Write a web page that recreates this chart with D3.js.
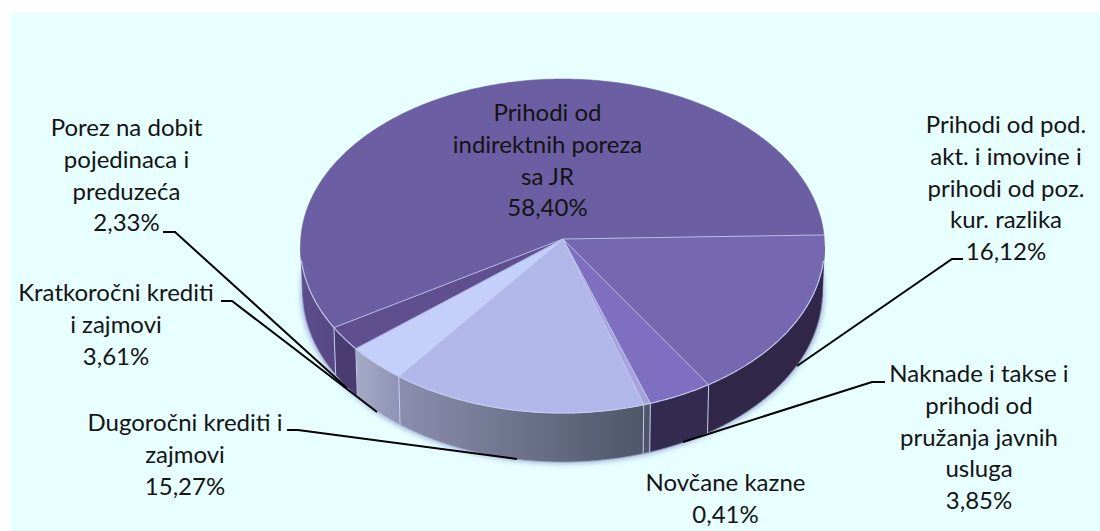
<!DOCTYPE html>
<html><head><meta charset="utf-8">
<script src="https://cdn.jsdelivr.net/npm/d3@7"></script>
<style>html,body{margin:0;padding:0;background:#fff;overflow:hidden}svg{display:block}</style>
</head><body><svg id="c" width="1100" height="531"></svg>
<script>
const categories = ["Prihodi od pod. akt. i imovine i prihodi od poz. kur. razlika","Naknade i takse i prihodi od pružanja javnih usluga","Novčane kazne","Dugoročni krediti i zajmovi","Kratkoročni krediti i zajmovi","Porez na dobit pojedinaca i preduzeća","Prihodi od indirektnih poreza sa JR"];
const values = [16.12,3.85,0.41,15.27,3.61,2.33,58.40];
const topColors = ["#7567b0","#7e6fc0","#a6a2dc","#b2b7e9","#c4cffa","#5f4f8e","#6b5ea3"];
const wallStart = ["#312849","#332b50","#4e5668","#8b8eae","#a5abc6","#4a3b70","#5d4f8e"];
const wallEnd   = ["#312849","#332b50","#4e5668","#4e5668","#8f93b5","#4a3b70","#564882"];
const labelLines = [
 ["Prihodi od pod.","akt. i imovine i","prihodi od poz.","kur. razlika","16,12%"],
 ["Naknade i takse i","prihodi od","pružanja javnih","usluga","3,85%"],
 ["Novčane kazne","0,41%"],
 ["Dugoročni krediti i","zajmovi","15,27%"],
 ["Kratkoročni krediti","i zajmovi","3,61%"],
 ["Porez na dobit","pojedinaca i","preduzeća","2,33%"],
 ["Prihodi od","indirektnih poreza","sa JR","58,40%"]
];
const labelAnchors = [[1006,133],[979,382],[725.5,491],[185,431],[116,301],[126.5,136],[547.5,121]];
const leaders = [
 [[963,259],[952,259],[797,366]],
 [[885,382],[872,382],[683,442]],
 [[287,430],[298,430],[517,459]],
 [[221,301],[232,301],[377,412]],
 [[163,232],[175,232],[347,388]]
];
const W=1100,H=531,apexX=563,apexY=239,cx=562.5,cy=246,rx=262,ry=167,cx2=562.5,cy2=291.5,rx2=260,ry2=170.5;
const deg=Math.PI/180;
const svg=d3.select("#c");
const defs=svg.append("defs");
defs.append("filter").attr("id","blur").attr("x","-10%").attr("y","-10%").attr("width","120%").attr("height","120%")
  .append("feGaussianBlur").attr("stdDeviation",2.5);
svg.append("rect").attr("x",10).attr("y",13).attr("width",W-10).attr("height",H-13).attr("fill","#e7ffff");

// pie angles bent by a mild perspective onto the rim ellipse
const pie=d3.pie().sort(null).value(d=>d);
const persp=d3.scaleLinear().domain([0,149.7*deg,360*deg]).range([86.2*deg,240.7*deg,446.2*deg]);
const arcs=pie(values).map(d=>({s:persp(d.startAngle),e:persp(d.endAngle)}));
const tx=d3.scaleLinear().domain([-1,1]).range([cx-rx,cx+rx]);
const ty=d3.scaleLinear().domain([-1,1]).range([cy-ry,cy+ry]);
const bx=d3.scaleLinear().domain([-1,1]).range([cx2-rx2,cx2+rx2]);
const by=d3.scaleLinear().domain([-1,1]).range([cy2-ry2,cy2+ry2]);
const topPt=a=>[tx(Math.sin(a)),ty(-Math.cos(a))];
const botPt=a=>[bx(Math.sin(a)),by(-Math.cos(a))];
const line=d3.line();
const sweep=(a0,a1,f)=>{const n=Math.max(2,Math.ceil((a1-a0)/(0.5*deg)));return d3.range(n+1).map(i=>f(a0+(a1-a0)*i/n));};

// soft shadow below the disc
svg.append("ellipse").attr("cx",cx2).attr("cy",cy2+1).attr("rx",rx2+2).attr("ry",ry2+1)
  .attr("fill","#8fa0d0").attr("filter","url(#blur)").attr("opacity",.75);

// walls (front half only)
const lo=90*deg, hi=270*deg;
arcs.forEach((d,i)=>{
  const s=Math.max(d.s,lo), e=Math.min(d.e,hi);
  if(e<=s) return;
  const id="w"+i;
  const g=defs.append("linearGradient").attr("id",id).attr("gradientUnits","userSpaceOnUse")
    .attr("x1",topPt(e)[0]).attr("x2",topPt(s)[0]).attr("y1",0).attr("y2",0);
  g.append("stop").attr("offset",0).attr("stop-color",wallStart[i]);
  g.append("stop").attr("offset",1).attr("stop-color",wallEnd[i]);
  const pts=sweep(s,e,topPt).concat(sweep(s,e,botPt).reverse());
  svg.append("path").attr("d",line(pts)+"Z").attr("fill",`url(#${id})`).attr("stroke",`url(#${id})`).attr("stroke-width",.5);
});
// wall separators
const edge="#c6cdf2";
arcs.forEach((d,i)=>{
  if(i===arcs.length-1) return;
  svg.append("path").attr("d",line([topPt(d.e),botPt(d.e)]))
    .attr("stroke",edge).attr("stroke-width",1).attr("fill","none");
});
svg.append("path").attr("d",line(sweep(lo+2*deg,hi-2*deg,botPt))).attr("fill","none").attr("stroke","#c6cdf2").attr("stroke-width",.8).attr("opacity",.5);

// top faces
arcs.forEach((d,i)=>{
  svg.append("path").attr("d",line([[apexX,apexY]].concat(sweep(d.s,d.e,topPt)))+"Z")
    .attr("fill",topColors[i]).attr("stroke",topColors[i]).attr("stroke-width",.5);
});
// radial edges + front rim
arcs.forEach(d=>{
  svg.append("path").attr("d",line([[apexX,apexY],topPt(d.s)])).attr("stroke",edge).attr("stroke-width",1).attr("fill","none").attr("opacity",.85);
});
svg.append("path").attr("d",line(sweep(lo+5*deg,hi-5*deg,topPt))).attr("fill","none").attr("stroke",edge).attr("stroke-width",1.1);

// leaders
leaders.forEach(p=>svg.append("path").attr("d",line(p)).attr("fill","none").attr("stroke","#000").attr("stroke-width",2));

// labels
const fs=24, lh=31.8;
labelLines.forEach((ls,i)=>{
  const t=svg.append("text").attr("font-family","Lato").attr("font-size",fs).attr("fill","#141414").attr("text-anchor","middle");
  ls.forEach((l,j)=>t.append("tspan").attr("x",labelAnchors[i][0]).attr("y",labelAnchors[i][1]+j*lh).text(l));
});
</script></body></html>
